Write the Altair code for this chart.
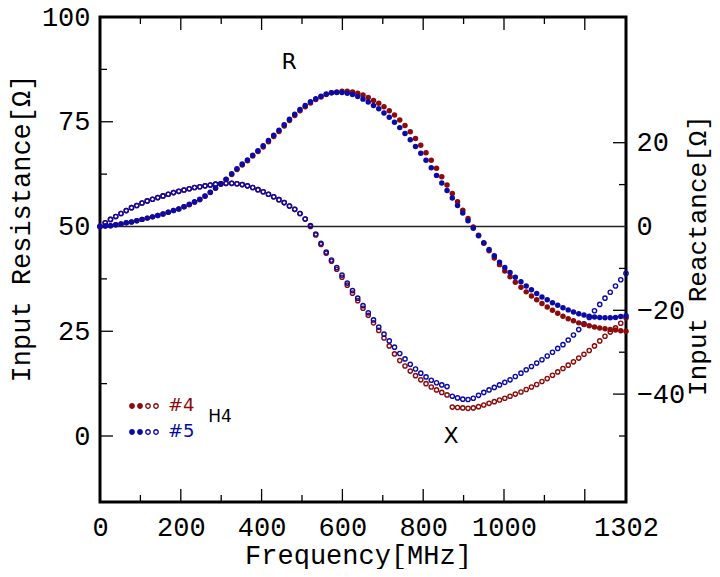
import altair as alt
import pandas as pd

# ---------------- data ----------------
freq = [0, 13, 26, 39, 52, 65, 78, 91, 104, 117,
        130, 143, 156, 169, 182, 195, 208, 221, 234, 247,
        260, 273, 286, 299, 312, 326, 339, 352, 365, 378,
        391, 404, 417, 430, 443, 456, 469, 482, 495, 508,
        521, 534, 547, 560, 573, 586, 599, 612, 625, 638,
        651, 664, 677, 690, 703, 716, 729, 742, 755, 768,
        781, 794, 807, 820, 833, 846, 859, 872, 885, 898,
        911, 924, 937, 950, 963, 976, 989, 1002, 1015, 1028,
        1042, 1055, 1068, 1081, 1094, 1107, 1120, 1133, 1146, 1159,
        1172, 1185, 1198, 1211, 1224, 1237, 1250, 1263, 1276, 1289,
        1302]

r4 = [50.0, 50.1, 50.2, 50.4, 50.6, 50.9, 51.1, 51.4, 51.7, 52.0,
      52.3, 52.6, 53.0, 53.4, 53.8, 54.2, 54.7, 55.2, 55.8, 56.4,
      57.2, 58.1, 59.1, 60.1, 61.2, 62.4, 63.6, 64.7, 65.7, 66.8,
      67.9, 69.0, 70.2, 71.5, 72.7, 74.0, 75.3, 76.5, 77.6, 78.6,
      79.5, 80.3, 80.9, 81.5, 81.9, 82.1, 82.3, 82.3, 82.1, 81.8,
      81.4, 80.8, 80.1, 79.4, 78.6, 77.6, 76.6, 75.4, 74.1, 72.6,
      71.0, 69.4, 67.6, 65.8, 63.9, 61.9, 59.9, 57.9, 55.9, 53.9,
      51.9, 49.9, 47.9, 46.0, 44.2, 42.5, 40.9, 39.4, 38.0, 36.7,
      35.5, 34.4, 33.4, 32.5, 31.6, 30.8, 30.0, 29.3, 28.6, 28.0,
      27.5, 27.0, 26.6, 26.3, 26.0, 25.8, 25.6, 25.4, 25.3, 25.1,
      25.0]

r5 = [50.0, 50.1, 50.2, 50.4, 50.6, 50.9, 51.1, 51.4, 51.7, 52.0,
      52.3, 52.6, 53.0, 53.4, 53.8, 54.2, 54.7, 55.3, 55.9, 56.5,
      57.3, 58.2, 59.2, 60.2, 61.3, 62.6, 63.8, 64.9, 65.9, 67.0,
      68.1, 69.3, 70.5, 71.8, 73.0, 74.3, 75.6, 76.8, 77.9, 78.9,
      79.8, 80.5, 81.1, 81.6, 81.9, 82.0, 82.0, 81.8, 81.5, 81.0,
      80.4, 79.7, 78.9, 78.1, 77.1, 76.1, 74.9, 73.6, 72.2, 70.7,
      69.1, 67.5, 65.8, 64.0, 62.2, 60.4, 58.6, 56.8, 55.0, 53.2,
      51.4, 49.6, 47.8, 46.1, 44.5, 43.0, 41.5, 40.2, 39.0, 37.9,
      36.8, 35.8, 34.9, 34.0, 33.2, 32.5, 31.8, 31.2, 30.6, 30.1,
      29.6, 29.2, 28.9, 28.6, 28.4, 28.3, 28.2, 28.2, 28.3, 28.5,
      28.7]

x4 = [0.0, 0.9, 1.7, 2.4, 3.1, 3.8, 4.5, 5.0, 5.6, 6.1,
      6.5, 6.9, 7.3, 7.7, 8.1, 8.4, 8.7, 9.0, 9.3, 9.5,
      9.7, 9.9, 10.1, 10.2, 10.3, 10.3, 10.2, 10.0, 9.7, 9.3,
      8.8, 8.3, 7.7, 7.1, 6.4, 5.7, 4.9, 4.1, 3.1, 1.8,
      0.0, -2.0, -4.3, -6.4, -8.3, -10.2, -12.1, -14.0, -15.9, -17.7,
      -19.5, -21.2, -23.0, -24.8, -26.6, -28.5, -30.4, -32.0, -33.3, -34.5,
      -35.6, -36.6, -37.5, -38.3, -39.0, -39.6, -40.2, -43.1, -43.2, -43.3,
      -43.4, -43.3, -43.0, -42.6, -42.2, -41.8, -41.4, -41.0, -40.5, -40.0,
      -39.5, -38.9, -38.3, -37.7, -37.0, -36.3, -35.5, -34.7, -33.9, -33.1,
      -32.3, -31.4, -30.5, -29.6, -28.5, -27.3, -26.2, -25.2, -24.2, -23.1,
      -21.8]

x5 = [0.0, 0.9, 1.7, 2.4, 3.1, 3.8, 4.5, 5.0, 5.6, 6.1,
      6.5, 6.9, 7.3, 7.7, 8.1, 8.4, 8.7, 9.0, 9.3, 9.5,
      9.7, 9.9, 10.1, 10.2, 10.3, 10.3, 10.2, 10.0, 9.7, 9.3,
      8.8, 8.3, 7.7, 7.1, 6.4, 5.7, 4.9, 4.1, 3.1, 1.8,
      0.2, -1.8, -4.0, -6.1, -8.0, -9.8, -11.6, -13.5, -15.3, -17.1,
      -18.9, -20.6, -22.3, -24.0, -25.7, -27.3, -28.8, -30.3, -31.6, -32.9,
      -34.0, -35.0, -35.9, -36.7, -37.3, -37.8, -38.2, -40.5, -40.9, -41.2,
      -41.3, -41.0, -40.3, -39.6, -39.0, -38.4, -37.8, -37.2, -36.6, -35.8,
      -35.0, -34.2, -33.4, -32.6, -31.8, -30.9, -30.0, -29.1, -28.2, -27.1,
      -25.9, -24.6, -23.2, -21.7, -20.1, -18.6, -17.1, -15.7, -14.2, -12.7,
      -11.2]

series = ["#4", "#5"]
colors = ["#8c0a0a", "#0a0aa8"]

x_labels = [0, 200, 400, 600, 800, 1000, 1302]
x_major = [200, 400, 600, 800, 1000, 1200]
x_minor = [100, 300, 500, 700, 900, 1100]
r_labels = [0, 25, 50, 75, 100]
r_major = [0, 25, 50, 75]
r_minor = [12.5, 37.5, 62.5, 87.5]
xr_labels = [-40, -20, 0, 20]
xr_major = [-40, -20, 20]
xr_minor = [-50, -30, -10, 10]

ann_text = ["R", "X"]
ann_freq = [468, 869]
ann_r = [89.3, 0.0]

tag_text = ["H4"]
tag_freq = [297]
tag_r = [4.5]

# ---------------- chart ----------------
assert all(len(a) == len(freq) for a in (r4, r5, x4, x5))
n = len(freq)
W, H = 526, 485
MONO = "Liberation Mono"
SANS = "DejaVu Sans"
FS = 27
MAJ, MIN = 13, 7

r4_df = pd.DataFrame({"freq": freq, "v": r4, "s": ["#4"] * n})
r5_df = pd.DataFrame({"freq": freq, "v": r5, "s": ["#5"] * n})
x_df = pd.DataFrame({"freq": freq * 2, "v": x4 + x5, "s": ["#4"] * n + ["#5"] * n})
ann_df = pd.DataFrame({"t": ann_text, "freq": ann_freq, "v": ann_r})
tag_df = pd.DataFrame({"t": tag_text, "freq": tag_freq, "v": tag_r})

x_scale = alt.Scale(domain=[0, 1302], nice=False, zero=False)
r_scale = alt.Scale(domain=[-15.75, 100], nice=False, zero=False)
xr_scale = alt.Scale(domain=[-65.75, 50], nice=False, zero=False)

x_axis = alt.Axis(values=x_labels, format="d", ticks=False, domain=False, grid=False,
                  orient="bottom",
                  labelFont=MONO, labelFontSize=FS, labelColor="black",
                  labelPadding=12, labelFlush=False,
                  title="Frequency[MHz]", titleFont=MONO, titleFontSize=FS,
                  titleFontWeight="normal", titleColor="black",
                  titleX=258, titleY=61, titleBaseline="alphabetic", titleAlign="center")

r_axis = alt.Axis(values=r_labels, format="d", ticks=False, domain=False, grid=False,
                  orient="left",
                  labelFont=MONO, labelFontSize=FS, labelColor="black", labelPadding=10,
                  title="Input Resistance[Ω]", titleFont=MONO, titleFontSize=FS,
                  titleFontWeight="normal", titleColor="black",
                  titleAngle=270, titleX=-79, titleY=211,
                  titleBaseline="middle", titleAlign="center")

xr_axis = alt.Axis(values=xr_labels, format="d", ticks=False, domain=False, grid=False,
                   orient="right",
                   labelFont=MONO, labelFontSize=FS, labelColor="black", labelPadding=10,
                   title="Input Reactance[Ω]", titleFont=MONO, titleFontSize=26,
                   titleFontWeight="normal", titleColor="black",
                   titleAngle=270, titleX=71, titleY=238,
                   titleBaseline="middle", titleAlign="center")

u = 1.45
ri = 0.8
def disc(cx, r, sweep):
    return (f"M{cx - r},0A{r},{r} 0 1,{sweep} {cx + r},0"
            f"A{r},{r} 0 1,{sweep} {cx - r},0Z")
legend_path = (disc(-6, u, 0) + disc(-2, u, 0) + disc(2, u, 0) + disc(2, ri, 1)
               + disc(6, u, 0) + disc(6, ri, 1))


def make_legend(y, col):
    return alt.Legend(orient="none", legendX=35, legendY=y, title=None,
                      symbolType=legend_path, symbolSize=16, symbolStrokeWidth=0,
                      symbolOpacity=1, labelFont=SANS, labelFontSize=18,
                      labelColor=col, labelOffset=15, padding=0)


X_ENC = dict(scale=x_scale, axis=x_axis)
R_ENC = dict(scale=r_scale, axis=r_axis)
XR_ENC = dict(scale=xr_scale, axis=xr_axis)


def tick_layer(vals, kind, length):
    df = pd.DataFrame({"v": vals})
    base = alt.Chart(df).mark_rule(color="black", strokeWidth=1.3)
    layers = []
    if kind == "x":
        xe = alt.X("v:Q", **X_ENC)
        layers.append(base.encode(x=xe, y=alt.value(H), y2=alt.value(H - length)))
        layers.append(base.encode(x=xe, y=alt.value(0), y2=alt.value(length)))
    elif kind == "left":
        ye = alt.Y("v:Q", **R_ENC)
        layers.append(base.encode(y=ye, x=alt.value(0), x2=alt.value(length)))
    else:
        ye = alt.Y("v:Q", **XR_ENC)
        layers.append(base.encode(y=ye, x=alt.value(W), x2=alt.value(W - length)))
    return layers


r4_points = alt.Chart(r4_df).mark_circle(size=30, opacity=1).encode(
    x=alt.X("freq:Q", **X_ENC),
    y=alt.Y("v:Q", **R_ENC),
    fill=alt.Fill("s:N", scale=alt.Scale(domain=[series[0]], range=[colors[0]]),
                  legend=make_legend(380, colors[0])),
)

r5_points = alt.Chart(r5_df).mark_circle(size=30, opacity=1).encode(
    x=alt.X("freq:Q", **X_ENC),
    y=alt.Y("v:Q", **R_ENC),
    color=alt.Color("s:N", scale=alt.Scale(domain=[series[1]], range=[colors[1]]),
                    legend=make_legend(406, colors[1])),
)

ann = alt.Chart(ann_df).mark_text(font=SANS, fontSize=22, color="black",
                                  align="center", baseline="middle").encode(
    x=alt.X("freq:Q", **X_ENC),
    y=alt.Y("v:Q", **R_ENC),
    text="t:N",
)

tag = alt.Chart(tag_df).mark_text(font=SANS, fontSize=17, color="black",
                                  align="center", baseline="middle").encode(
    x=alt.X("freq:Q", **X_ENC),
    y=alt.Y("v:Q", **R_ENC),
    text="t:N",
)

left_group = alt.layer(
    *tick_layer(x_major, "x", MAJ),
    *tick_layer(x_minor, "x", MIN),
    *tick_layer(r_major, "left", MAJ),
    *tick_layer(r_minor, "left", MIN),
    ann, tag,
    r4_points, r5_points,
)

zero_line = alt.Chart(pd.DataFrame({"v": [0]})).mark_rule(color="#222", strokeWidth=1.4).encode(
    y=alt.Y("v:Q", **XR_ENC),
    x=alt.value(0), x2=alt.value(W),
)

x_points = alt.Chart(x_df).mark_point(shape="circle", filled=False, size=18,
                                      strokeWidth=1.4, opacity=1).encode(
    x=alt.X("freq:Q", **X_ENC),
    y=alt.Y("v:Q", **XR_ENC),
    stroke=alt.Stroke("s:N", scale=alt.Scale(domain=series, range=colors), legend=None),
)

right_group = alt.layer(
    zero_line,
    *tick_layer(xr_major, "right", MAJ),
    *tick_layer(xr_minor, "right", MIN),
    x_points,
)

chart = alt.layer(right_group, left_group).resolve_scale(y="independent").properties(
    width=W, height=H,
    padding={"left": 92, "top": 9, "right": 86, "bottom": 67},
    autosize=alt.AutoSizeParams(type="none"),
).configure(background="white").configure_view(stroke="black", strokeWidth=3)

chart.save("out.html", embed_options={"renderer": "svg", "actions": False})
